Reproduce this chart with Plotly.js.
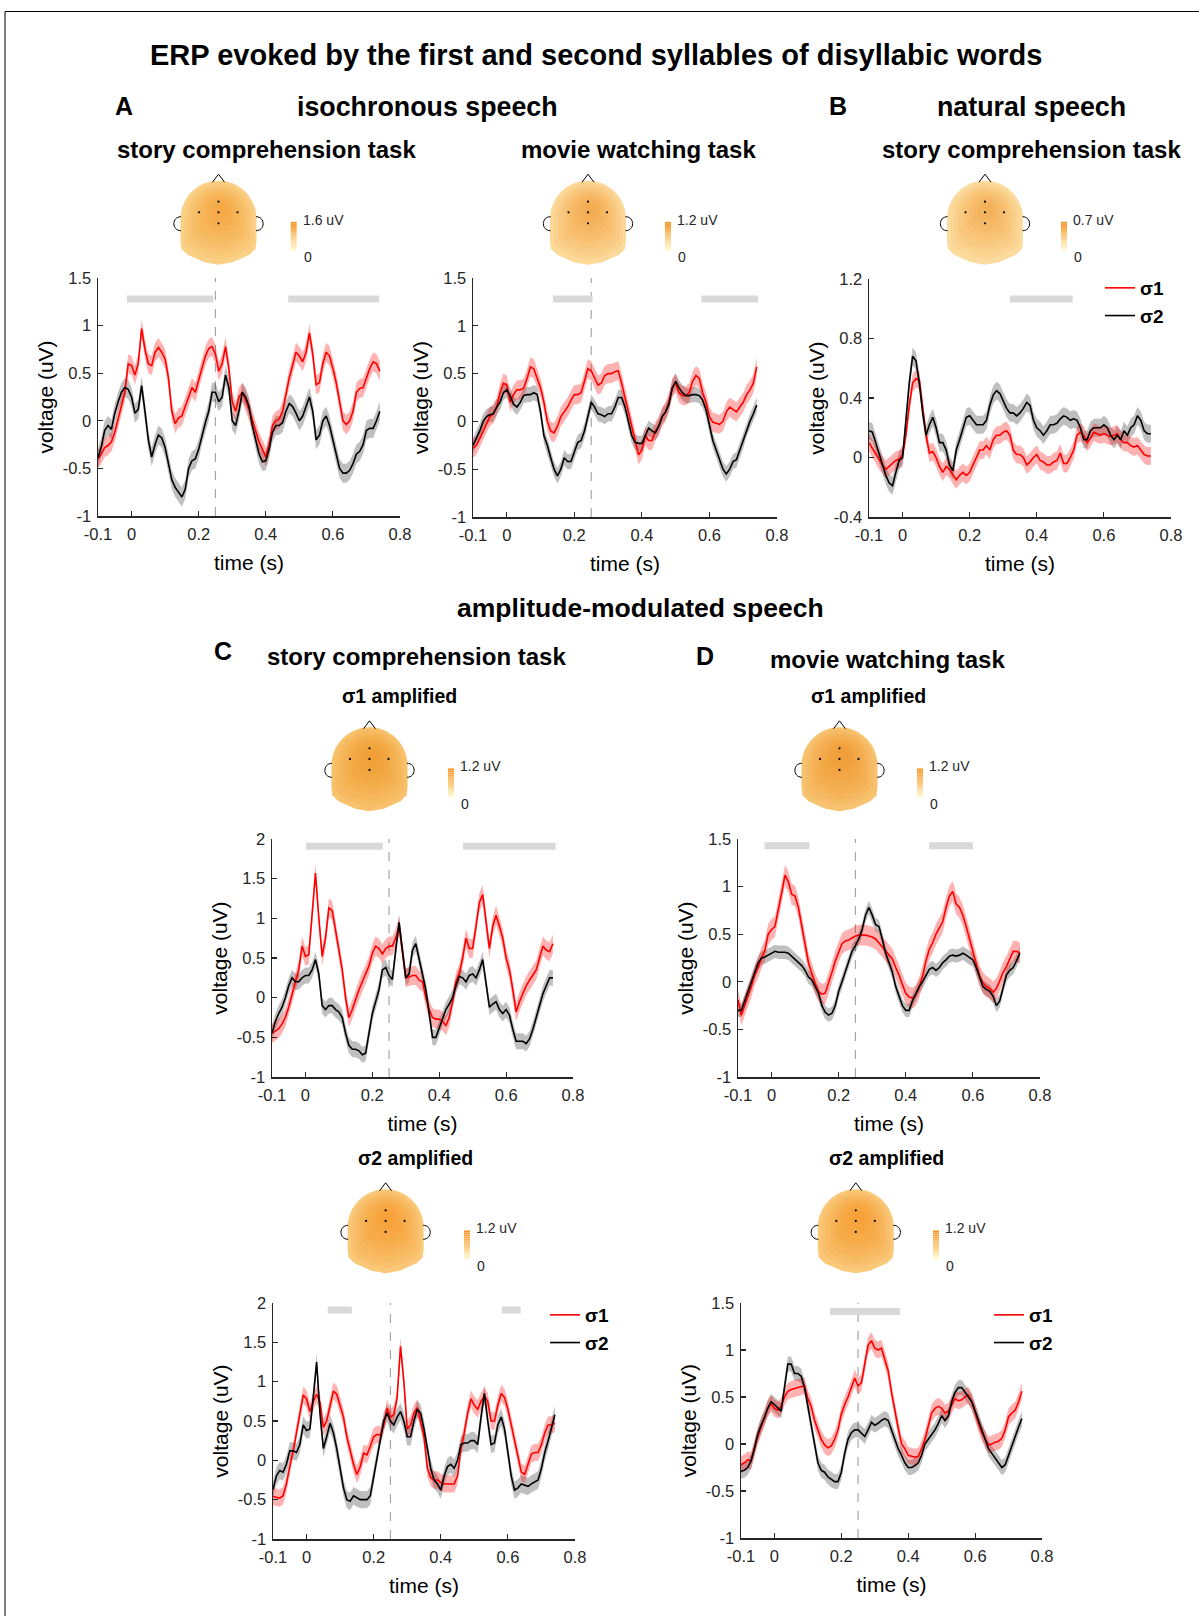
<!DOCTYPE html>
<html><head><meta charset="utf-8">
<script src="https://cdn.plot.ly/plotly-3.0.1.min.js"></script>
<style>html,body{margin:0;padding:0;background:#fff;}#chart{width:1199px;height:1616px;}</style>
</head><body><div id="chart"></div>
<script>
// ---------------- data ----------------
const time=[-0.10,-0.09,-0.08,-0.07,-0.06,-0.05,-0.04,-0.03,-0.02,-0.01,
0.00,0.01,0.02,0.03,0.04,0.05,0.06,0.07,0.08,0.09,
0.10,0.11,0.12,0.13,0.14,0.15,0.16,0.17,0.18,0.19,
0.20,0.21,0.22,0.23,0.24,0.25,0.26,0.27,0.28,0.29,
0.30,0.31,0.32,0.33,0.34,0.35,0.36,0.37,0.38,0.39,
0.40,0.41,0.42,0.43,0.44,0.45,0.46,0.47,0.48,0.49,
0.50,0.51,0.52,0.53,0.54,0.55,0.56,0.57,0.58,0.59,
0.60,0.61,0.62,0.63,0.64,0.65,0.66,0.67,0.68,0.69,
0.70,0.71,0.72,0.73,0.74];
const xTickVals=[-0.1,0,0.2,0.4,0.6,0.8];
const xTickText=['-0.1','0','0.2','0.4','0.6','0.8'];
const yTicks15=[-1,-0.5,0,0.5,1,1.5];
const yText15=['-1','-0.5','0','0.5','1','1.5'];
const yTicks2=[-1,-0.5,0,0.5,1,1.5,2];
const yText2=['-1','-0.5','0','0.5','1','1.5','2'];
const yTicksNat=[-0.4,0,0.4,0.8,1.2];
const yTextNat=['-0.4','0','0.4','0.8','1.2'];
const syllableBoundary=0.25;
const seriesNames=['σ1','σ2'];

// A: isochronous speech, story comprehension task
const isoStoryS1=[-0.4,-0.35,-0.28,-0.26,-0.22,-0.12,0.02,0.17,0.3,0.6,
0.58,0.48,0.6,0.97,0.75,0.6,0.58,0.72,0.77,0.72,
0.65,0.45,0.1,-0.03,0.03,0.05,0.15,0.25,0.35,0.3,
0.42,0.55,0.68,0.76,0.78,0.7,0.52,0.6,0.78,0.55,
0.2,0.1,0.25,0.3,0.22,0.12,0,-0.1,-0.22,-0.3,
-0.38,-0.25,-0.05,0,0.02,0.1,0.28,0.45,0.58,0.72,
0.68,0.62,0.72,0.92,0.7,0.38,0.4,0.6,0.72,0.68,
0.55,0.4,0.2,0,-0.04,0,0.1,0.3,0.34,0.35,
0.45,0.55,0.62,0.6,0.52];
const isoStoryS2=[-0.39,-0.27,-0.1,-0.05,-0.09,0.08,0.2,0.3,0.35,0.33,
0.25,0.08,0.12,0.37,0.1,-0.2,-0.38,-0.25,-0.15,-0.18,
-0.28,-0.45,-0.62,-0.7,-0.75,-0.8,-0.72,-0.5,-0.42,-0.4,
-0.3,-0.15,-0.02,0.1,0.3,0.3,0.2,0.25,0.48,0.35,
0,-0.05,0.1,0.3,0.25,0.15,-0.05,-0.2,-0.35,-0.43,
-0.42,-0.3,-0.12,-0.05,-0.05,-0.02,0.1,0.18,0.15,0.08,
0,0.05,0.15,0.25,0.1,-0.2,-0.15,0,0.05,-0.05,
-0.2,-0.35,-0.5,-0.55,-0.55,-0.52,-0.45,-0.35,-0.32,-0.25,
-0.1,-0.08,-0.08,0,0.1];
const isoStorySem=[0.1,0.1];
const isoStorySig=[[-0.014,0.244],[0.467,0.738]];

// A: isochronous speech, movie watching task
const isoMovieS1=[-0.28,-0.25,-0.18,-0.1,-0.02,0.05,0.08,0.15,0.3,0.4,
0.38,0.2,0.28,0.33,0.33,0.35,0.45,0.57,0.55,0.45,
0.35,0.2,0,-0.1,-0.12,-0.05,0.05,0.1,0.15,0.22,
0.28,0.28,0.3,0.42,0.55,0.53,0.45,0.38,0.4,0.48,
0.5,0.5,0.52,0.53,0.4,0.25,0.1,-0.05,-0.2,-0.35,
-0.3,-0.15,-0.2,-0.2,-0.1,-0.05,0.05,0.1,0.2,0.35,
0.4,0.3,0.27,0.27,0.3,0.42,0.48,0.45,0.3,0.2,
0.05,-0.01,-0.02,-0.03,0,0.1,0.15,0.12,0.1,0.15,
0.2,0.28,0.33,0.4,0.57];
const isoMovieS2=[-0.25,-0.18,-0.1,0,0.05,0.07,0.08,0.15,0.2,0.3,
0.33,0.27,0.18,0.15,0.2,0.27,0.28,0.28,0.3,0.28,
0.1,-0.15,-0.25,-0.38,-0.5,-0.57,-0.5,-0.38,-0.42,-0.42,
-0.32,-0.22,-0.2,-0.1,0.05,0.2,0.15,0.08,0.07,0.05,
0.08,0.08,0.15,0.25,0.25,0.15,0,-0.15,-0.22,-0.23,
-0.23,-0.15,-0.07,-0.1,-0.12,-0.05,0.05,0.1,0.18,0.35,
0.42,0.35,0.3,0.27,0.27,0.28,0.28,0.27,0.22,0.12,
-0.05,-0.2,-0.3,-0.4,-0.5,-0.55,-0.5,-0.42,-0.4,-0.3,
-0.2,-0.08,0,0.08,0.17];
const isoMovieSem=[0.1,0.08];
const isoMovieSig=[[0.137,0.254],[0.576,0.744]];

// B: natural speech, story comprehension task
const natStoryS1=[0.1,0.06,0.02,-0.02,-0.05,-0.08,-0.06,-0.04,-0.02,-0.01,
0.02,0.15,0.35,0.5,0.53,0.52,0.35,0.15,0.03,0.04,
0,-0.06,-0.1,-0.06,-0.08,-0.12,-0.15,-0.12,-0.1,-0.12,
-0.1,-0.05,0,0.05,0.05,0.08,0.05,0.12,0.15,0.15,
0.17,0.18,0.15,0.05,0.02,0.02,0,-0.05,-0.03,0,
0.02,-0.02,-0.03,-0.05,-0.05,-0.03,-0.02,0.03,-0.04,-0.04,
0,0.05,0.15,0.17,0.15,0.1,0.13,0.17,0.16,0.15,
0.16,0.15,0.14,0.15,0.16,0.12,0.1,0.1,0.08,0.07,
0.08,0.05,0.02,0.01,0.01];
const natStoryS2=[0.18,0.17,0.1,0.03,-0.05,-0.12,-0.17,-0.19,-0.1,-0.02,
0,0.25,0.5,0.68,0.65,0.5,0.3,0.15,0.22,0.27,
0.2,0.1,0.1,0.05,-0.05,-0.09,0.05,0.12,0.2,0.27,
0.28,0.25,0.22,0.22,0.22,0.25,0.35,0.42,0.45,0.43,
0.38,0.33,0.3,0.3,0.28,0.3,0.33,0.37,0.35,0.25,
0.2,0.18,0.15,0.18,0.22,0.22,0.23,0.26,0.28,0.27,
0.25,0.26,0.25,0.2,0.12,0.12,0.18,0.2,0.2,0.2,
0.22,0.2,0.15,0.12,0.15,0.12,0.18,0.15,0.2,0.22,
0.28,0.25,0.18,0.16,0.16];
const natStorySem=[0.06,0.06];
const natStorySig=[[0.32,0.507]];

// C: amplitude-modulated, story comprehension, σ1 amplified
const amStory1S1=[-0.45,-0.42,-0.39,-0.33,-0.25,-0.12,0.05,0.2,0.35,0.65,
0.52,0.54,1.05,1.57,1.0,0.52,0.75,1.13,1.1,0.85,
0.6,0.35,0,-0.25,-0.15,-0.02,0.1,0.2,0.3,0.4,
0.56,0.65,0.62,0.55,0.62,0.65,0.65,0.75,0.9,0.6,
0.25,0.26,0.28,0.28,0.22,0.2,0,-0.15,-0.25,-0.27,
-0.27,-0.3,-0.35,-0.25,-0.05,0.2,0.3,0.5,0.75,0.62,
0.62,0.9,1.2,1.3,0.95,0.62,0.9,1.04,0.9,0.75,
0.5,0.35,0.1,-0.18,-0.05,0.05,0.15,0.22,0.28,0.35,
0.5,0.65,0.6,0.58,0.68];
const amStory1S2=[-0.45,-0.3,-0.2,-0.12,0,0.15,0.25,0.2,0.2,0.25,
0.28,0.28,0.35,0.48,0.3,-0.1,-0.15,-0.1,-0.1,-0.15,
-0.18,-0.25,-0.45,-0.6,-0.65,-0.65,-0.67,-0.72,-0.7,-0.45,
-0.2,-0.05,0.1,0.35,0.38,0.28,0.23,0.6,0.95,0.6,
0.25,0.3,0.6,0.68,0.5,0.3,0.1,-0.2,-0.5,-0.5,
-0.38,-0.25,-0.15,-0.08,0,0.15,0.27,0.25,0.2,0.28,
0.3,0.25,0.35,0.48,0.2,-0.12,-0.08,-0.05,-0.15,-0.2,
-0.15,-0.22,-0.4,-0.55,-0.55,-0.55,-0.58,-0.52,-0.4,-0.25,
-0.1,0.05,0.15,0.25,0.25];
const amStory1Sem=[0.12,0.1];
const amStory1Sig=[[0.002,0.231],[0.471,0.748]];

// D: amplitude-modulated, movie watching, σ1 amplified
const amMovie1S1=[-0.19,-0.35,-0.25,-0.16,-0.05,0.07,0.15,0.25,0.33,0.5,
0.55,0.58,0.74,0.93,1.12,1.05,0.92,0.9,0.78,0.58,
0.39,0.2,0.09,-0.02,-0.1,-0.13,-0.12,-0.02,0.1,0.22,
0.32,0.4,0.43,0.44,0.46,0.48,0.49,0.49,0.49,0.48,
0.47,0.45,0.41,0.37,0.33,0.28,0.24,0.15,0.07,-0.03,
-0.12,-0.16,-0.17,-0.14,-0.06,0.06,0.22,0.34,0.41,0.5,
0.56,0.63,0.78,0.9,0.95,0.82,0.78,0.7,0.58,0.44,
0.3,0.19,0.06,-0.01,-0.05,-0.07,-0.11,-0.07,0.01,0.1,
0.16,0.24,0.32,0.32,0.3];
const amMovie1S2=[-0.3,-0.3,-0.2,-0.1,0,0.1,0.2,0.25,0.26,0.28,
0.3,0.32,0.31,0.31,0.31,0.3,0.27,0.24,0.2,0.17,
0.12,0.05,0.02,-0.05,-0.12,-0.25,-0.32,-0.35,-0.33,-0.25,
-0.1,0,0.1,0.22,0.32,0.38,0.45,0.55,0.7,0.78,
0.7,0.6,0.58,0.45,0.3,0.2,0.1,-0.05,-0.15,-0.25,
-0.3,-0.3,-0.2,-0.12,-0.05,0,0.07,0.13,0.15,0.12,
0.15,0.2,0.23,0.27,0.28,0.27,0.28,0.3,0.28,0.25,
0.23,0.15,0.05,-0.05,-0.08,-0.1,-0.15,-0.25,-0.2,-0.05,
0.07,0.12,0.15,0.22,0.3];
const amMovie1Sem=[0.11,0.07];
const amMovie1Sig=[[-0.021,0.113],[0.47,0.6]];

// C: amplitude-modulated, story comprehension, σ2 amplified
const amStory2S1=[-0.46,-0.47,-0.48,-0.45,-0.3,-0.08,0.11,0.35,0.6,0.83,
0.78,0.62,0.75,0.84,0.74,0.42,0.5,0.7,0.88,0.84,
0.7,0.55,0.3,0.13,-0.05,-0.18,-0.08,0.09,0.07,0.18,
0.3,0.33,0.32,0.45,0.66,0.55,0.58,0.8,1.45,1.0,
0.4,0.45,0.6,0.67,0.5,0.3,-0.1,-0.22,-0.25,-0.25,
-0.28,-0.3,-0.3,-0.3,-0.3,-0.2,0.15,0.35,0.6,0.78,
0.7,0.65,0.75,0.82,0.75,0.5,0.5,0.7,0.85,0.8,
0.65,0.45,0.25,0.05,-0.15,-0.18,-0.05,0.08,0.1,0.1,
0.2,0.35,0.45,0.45,0.47];
const amStory2S2=[-0.37,-0.2,-0.13,-0.15,-0.05,0.12,0.12,0.1,0.2,0.45,
0.38,0.4,0.8,1.25,0.6,0.15,0.3,0.47,0.35,0.15,
-0.1,-0.35,-0.5,-0.52,-0.45,-0.48,-0.5,-0.5,-0.5,-0.45,
-0.2,0.05,0.3,0.5,0.6,0.5,0.45,0.55,0.62,0.5,
0.3,0.3,0.5,0.65,0.6,0.4,0.15,-0.1,-0.25,-0.3,
-0.38,-0.2,-0.08,-0.05,-0.1,0,0.2,0.22,0.22,0.25,
0.25,0.2,0.55,0.85,0.5,0.2,0.22,0.45,0.55,0.4,
0.1,-0.2,-0.38,-0.35,-0.3,-0.32,-0.33,-0.3,-0.27,-0.25,
-0.1,0.1,0.25,0.4,0.58];
const amStory2Sem=[0.11,0.11];
const amStory2Sig=[[0.063,0.135],[0.582,0.638]];

// D: amplitude-modulated, movie watching, σ2 amplified
const amMovie2S1=[-0.22,-0.2,-0.17,-0.18,-0.05,0.08,0.18,0.28,0.38,0.43,
0.38,0.36,0.4,0.5,0.56,0.58,0.59,0.6,0.61,0.62,
0.48,0.4,0.25,0.15,0.05,-0.01,-0.04,-0.02,0.05,0.15,
0.32,0.42,0.5,0.6,0.7,0.62,0.65,0.85,1.05,1.1,
1.02,1.0,1.02,0.9,0.78,0.55,0.35,0.17,0,-0.05,
-0.12,-0.13,-0.14,-0.13,-0.05,0.05,0.2,0.33,0.38,0.4,
0.38,0.33,0.35,0.42,0.48,0.46,0.47,0.5,0.52,0.45,
0.33,0.22,0.12,0.05,-0.01,0,0.02,0.03,0.06,0.15,
0.29,0.33,0.36,0.45,0.56];
const amMovie2S2=[-0.29,-0.28,-0.25,-0.18,-0.05,0.1,0.2,0.28,0.38,0.45,
0.42,0.38,0.35,0.6,0.85,0.85,0.75,0.75,0.72,0.6,
0.4,0.2,0,-0.2,-0.28,-0.3,-0.35,-0.38,-0.4,-0.4,
-0.3,-0.1,0.05,0.12,0.15,0.15,0.12,0.08,0.15,0.23,
0.2,0.22,0.25,0.27,0.25,0.15,0.05,-0.05,-0.12,-0.2,
-0.25,-0.25,-0.23,-0.2,-0.12,0,0.05,0.1,0.15,0.22,
0.3,0.25,0.3,0.45,0.55,0.6,0.6,0.55,0.5,0.45,
0.35,0.25,0.15,0.05,-0.05,-0.1,-0.15,-0.2,-0.25,-0.22,
-0.12,0,0.08,0.18,0.27];
const amMovie2Sem=[0.09,0.08];
const amMovie2Sig=[[0.166,0.376]];

// topography colour-scale maxima
const topoMaxLabels=['1.6 uV','1.2 uV','0.7 uV','1.2 uV','1.2 uV','1.2 uV','1.2 uV'];

// ---------------- layout helpers ----------------
const W=1199,H=1616;
const FONT='Liberation Sans, Arial, Helvetica, sans-serif';
const TXT='#262626';
const px=x=>x/W, py=y=>1-y/H;

const panels=[
 {s1:isoStoryS1,s2:isoStoryS2,sem:isoStorySem,sig:isoStorySig,sigY:1.28,box:[98,400,278,516],yr:[-1,1.5],yt:yTicks15,ytt:yText15,boundary:true,legend:null},
 {s1:isoMovieS1,s2:isoMovieS2,sem:isoMovieSem,sig:isoMovieSig,sigY:1.28,box:[473,777,278,517],yr:[-1,1.5],yt:yTicks15,ytt:yText15,boundary:true,legend:null},
 {s1:natStoryS1,s2:natStoryS2,sem:natStorySem,sig:natStorySig,sigY:1.066,box:[869,1171,279,517],yr:[-0.4,1.2],yt:yTicksNat,ytt:yTextNat,boundary:false,legend:'legend'},
 {s1:amStory1S1,s2:amStory1S2,sem:amStory1Sem,sig:amStory1Sig,sigY:1.91,box:[272,573,839,1077],yr:[-1,2],yt:yTicks2,ytt:yText2,boundary:true,legend:null},
 {s1:amMovie1S1,s2:amMovie1S2,sem:amMovie1Sem,sig:amMovie1Sig,sigY:1.43,box:[738,1040,839,1077],yr:[-1,1.5],yt:yTicks15,ytt:yText15,boundary:true,legend:null},
 {s1:amStory2S1,s2:amStory2S2,sem:amStory2Sem,sig:amStory2Sig,sigY:1.91,box:[273,575,1303,1539],yr:[-1,2],yt:yTicks2,ytt:yText2,boundary:true,legend:'legend2'},
 {s1:amMovie2S1,s2:amMovie2S2,sem:amMovie2Sem,sig:amMovie2Sig,sigY:1.41,box:[741,1042,1303,1538],yr:[-1,1.5],yt:yTicks15,ytt:yText15,boundary:true,legend:'legend3'}
];

const traces=[], shapes=[], annotations=[];
const layout={width:W,height:H,margin:{l:0,r:0,t:0,b:0},paper_bgcolor:'#ffffff',plot_bgcolor:'rgba(0,0,0,0)',
  font:{family:FONT,color:TXT},showlegend:true,hovermode:false};

const legendBase={bgcolor:'rgba(0,0,0,0)',borderwidth:0,xanchor:'left',yanchor:'top',tracegroupgap:0,
  font:{family:FONT,size:19,color:'#000',weight:'bold'},itemclick:false,itemdoubleclick:false};
layout.legend=Object.assign({},legendBase,{x:px(1100),y:py(269)});
layout.legend2=Object.assign({},legendBase,{x:px(545),y:py(1296)});
layout.legend3=Object.assign({},legendBase,{x:px(989),y:py(1296)});

panels.forEach((p,i)=>{
  const n=i===0?'':String(i+1);
  const xa='x'+n, ya='y'+n;
  const band=(v,e,col)=>({type:'scatter',mode:'lines',
    x:time.concat(time.slice().reverse()),
    y:v.map(a=>a+e).concat(v.map(a=>a-e).reverse()),
    fill:'toself',fillcolor:col,line:{width:0,color:'rgba(0,0,0,0)'},
    hoverinfo:'skip',showlegend:false,xaxis:xa,yaxis:ya});
  traces.push(band(p.s2,p.sem[1],'rgba(0,0,0,0.25)'));
  traces.push(band(p.s1,p.sem[0],'rgba(255,0,0,0.3)'));
  p.sig.forEach(s=>traces.push({type:'scatter',mode:'lines',x:s,y:[p.sigY,p.sigY],
    line:{color:'#d9d9d9',width:7},showlegend:false,hoverinfo:'skip',xaxis:xa,yaxis:ya}));
  const leg=p.legend||'legend';
  traces.push({type:'scatter',mode:'lines',x:time,y:p.s1,name:seriesNames[0],line:{color:'#ff0000',width:1.6},
    showlegend:!!p.legend,legend:leg,xaxis:xa,yaxis:ya});
  traces.push({type:'scatter',mode:'lines',x:time,y:p.s2,name:seriesNames[1],line:{color:'#000000',width:1.6},
    showlegend:!!p.legend,legend:leg,xaxis:xa,yaxis:ya});
  const [x0,x1,y0,y1]=p.box;
  const common={showline:true,linecolor:TXT,linewidth:1.5,ticks:'inside',ticklen:5,tickwidth:1.2,tickcolor:TXT,
    showgrid:false,zeroline:false,fixedrange:true,mirror:false,
    tickfont:{family:FONT,size:16.5,color:TXT},tickmode:'array'};
  layout['xaxis'+n]=Object.assign({},common,{domain:[px(x0),px(x1)],range:[-0.1,0.8],anchor:ya,
    tickvals:xTickVals,ticktext:xTickText,ticklabelstandoff:3,
    title:{text:'time (s)',font:{family:FONT,size:21,color:'#000'},standoff:13}});
  layout['yaxis'+n]=Object.assign({},common,{domain:[py(y1),py(y0)],range:p.yr,anchor:xa,
    tickvals:p.yt,ticktext:p.ytt,ticklabelstandoff:2,
    title:{text:'voltage (uV)',font:{family:FONT,size:21,color:'#000'},standoff:3}});
  if(p.boundary) shapes.push({type:'line',xref:xa,yref:ya+' domain',x0:syllableBoundary,x1:syllableBoundary,y0:0,y1:1,
    line:{color:'#a6a6a6',width:1.2,dash:'dash'},layer:'below'});
});

// ---------------- topographic maps (decorative head glyphs) ----------------
const topoMaps=[
 {cx:218.5,top:180.7,cbx:290.7,s:0.6},
 {cx:588,top:180.7,cbx:665,s:0.4},
 {cx:985,top:180.7,cbx:1061,s:0.35},
 {cx:369.5,top:727.3,cbx:448,s:0.9},
 {cx:839.5,top:727.3,cbx:917,s:0.85},
 {cx:385.6,top:1189.3,cbx:464,s:0.75},
 {cx:855.8,top:1189.3,cbx:933,s:0.75}
];
function hex(c){return [parseInt(c.slice(1,3),16),parseInt(c.slice(3,5),16),parseInt(c.slice(5,7),16)];}
function mix(a,b,t){const A=hex(a),B=hex(b);return 'rgb('+A.map((v,i)=>Math.round(v+(B[i]-v)*t)).join(',')+')';}
function pathFrom(pts,close){return pts.map((p,i)=>(i?'L':'M')+px(p[0]).toFixed(5)+','+py(p[1]).toFixed(5)).join(' ')+(close?' Z':'');}
function dot(cx,cy,rr){shapes.push({type:'circle',xref:'paper',yref:'paper',x0:px(cx-rr),x1:px(cx+rr),y0:py(cy+rr),y1:py(cy-rr),fillcolor:'#000',line:{width:0}});}

topoMaps.forEach((m,k)=>{
  const r=38, cx=m.cx, T=m.top, cy=T+r;
  const pts=[];
  for(let j=0;j<=24;j++){const a=Math.PI-j*Math.PI/24;pts.push([cx+r*Math.cos(a),cy-r*Math.sin(a)]);}
  pts.push([cx+r,T+60],[cx+r-1,T+68],[cx+31,T+74],[cx+14,T+81.5],[cx,T+84],[cx-14,T+81.5],[cx-31,T+74],[cx-r+1,T+68],[cx-r,T+60]);
  shapes.push({type:'path',xref:'paper',yref:'paper',path:pathFrom(pts,true),fillcolor:mix('#fff3c8','#f9c470',m.s),line:{width:0}});
  // radial gradient: scaled copies of the head outline about a focal point near the vertex
  const fx=cx+3, fy=T+26, a=0.07+0.12*m.s;
  for(let j=0;j<10;j++){
    const f=1-0.095*j;
    const sp=pts.map(q=>[fx+(q[0]-fx)*f,fy+(q[1]-fy)*f]);
    shapes.push({type:'path',xref:'paper',yref:'paper',path:pathFrom(sp,true),fillcolor:'#f39325',opacity:a*0.75,line:{width:0}});
  }
  // nose and ears
  shapes.push({type:'path',xref:'paper',yref:'paper',path:pathFrom([[cx-6,T+1.5],[cx,T-6.5],[cx+6,T+1.5]],false),line:{color:'#000',width:1}});
  const earL='M'+px(cx-r+0.5)+','+py(T+36)+' C'+px(cx-r-9)+','+py(T+36)+' '+px(cx-r-9)+','+py(T+50)+' '+px(cx-r+0.5)+','+py(T+50);
  const earR='M'+px(cx+r-0.5)+','+py(T+36)+' C'+px(cx+r+9)+','+py(T+36)+' '+px(cx+r+9)+','+py(T+50)+' '+px(cx+r-0.5)+','+py(T+50);
  shapes.push({type:'path',xref:'paper',yref:'paper',path:earL,line:{color:'#000',width:1}});
  shapes.push({type:'path',xref:'paper',yref:'paper',path:earR,line:{color:'#000',width:1}});
  // electrodes
  [[0,21],[0,31.6],[0,42.6],[-19.5,31.6],[19,31.6]].forEach(d=>dot(cx+d[0],T+d[1],1.1));
  // colour bar
  const nSeg=14, cbTop=T+41, cbBot=T+70, hSeg=(cbBot-cbTop)/nSeg;
  for(let j=0;j<nSeg;j++){
    const col=mix('#fffbd2','#f7911c',(j+0.5)/nSeg);
    shapes.push({type:'rect',xref:'paper',yref:'paper',x0:px(m.cbx),x1:px(m.cbx+6),y0:py(cbBot-j*hSeg),y1:py(cbBot-(j+1)*hSeg)-0.0001,fillcolor:col,line:{width:0}});
  }
  annotations.push({xref:'paper',yref:'paper',x:px(m.cbx+10),y:py(T+39),text:topoMaxLabels[k],showarrow:false,xanchor:'left',yanchor:'middle',font:{family:FONT,size:14,color:TXT}});
  annotations.push({xref:'paper',yref:'paper',x:px(m.cbx+11),y:py(T+76.5),text:'0',showarrow:false,xanchor:'left',yanchor:'middle',font:{family:FONT,size:14,color:TXT}});
});

// ---------------- headings ----------------
const headings=[
 ['ERP evoked by the first and second syllables of disyllabic words',596,55,29],
 ['A',124,106,25],['isochronous speech',427,107,26.8],
 ['B',838,106,25],['natural speech',1031,107,26.8],
 ['story comprehension task',266,149.5,24],['movie watching task',638,149.5,24],['story comprehension task',1031,149.5,24],
 ['amplitude-modulated speech',640,608,26.5],
 ['C',223,651,25],['story comprehension task',416,656,24],
 ['D',705,656,25],['movie watching task',887,660,24],
 ['σ1 amplified',399,696,19.5],['σ1 amplified',868,696,19.5],
 ['σ2 amplified',415.5,1158,19.5],['σ2 amplified',886,1158,19.5]
];
headings.forEach(h=>annotations.push({xref:'paper',yref:'paper',x:px(h[1]),y:py(h[2]),text:'<b>'+h[0]+'</b>',showarrow:false,
  xanchor:'center',yanchor:'middle',font:{family:FONT,size:h[3],color:'#000'}}));

// frame
shapes.push({type:'line',xref:'paper',yref:'paper',x0:px(5),x1:1,y0:py(11.5),y1:py(11.5),line:{color:'#000',width:1}});
shapes.push({type:'line',xref:'paper',yref:'paper',x0:px(5),x1:px(5),y0:py(11.5),y1:0,line:{color:'#000',width:1}});

layout.shapes=shapes;
layout.annotations=annotations;
Plotly.newPlot('chart',traces,layout,{displayModeBar:false,staticPlot:true});
</script></body></html>
